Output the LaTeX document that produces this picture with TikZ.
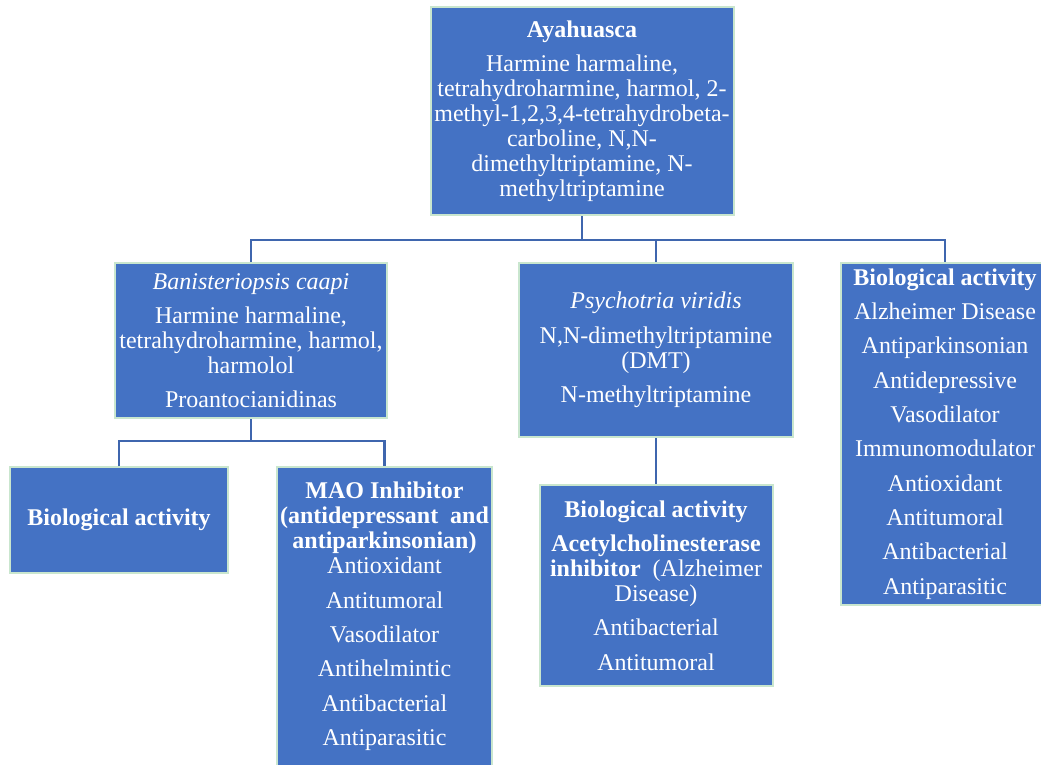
\documentclass[tikz,border=0pt]{standalone}
\usepackage{fontspec}
\setmainfont{Liberation Serif}
\definecolor{boxfill}{HTML}{4472C4}
\definecolor{boxline}{HTML}{C9E6CE}
\definecolor{connline}{HTML}{3F66AE}
\tikzset{
  pbox/.style={draw=boxline, line width=1.5pt, fill=boxfill, text=white,
    rectangle, inner sep=0pt, align=center,
    font=\fontsize{18}{18.75}\selectfont},
  bw/.style={minimum width={#1*0.75pt}},
  bh/.style={minimum height={#1*0.75pt}},
  conn/.style={draw=connline, line width=1.7pt}
}
\begin{document}
\begin{tikzpicture}[x=0.75pt, y=-0.75pt]
\useasboundingbox (0,0) rectangle (1041,764);
\clip (0,0) rectangle (1041,764);

\node[pbox, bw=303, bh=208] (top) at (582,111)
  {\textbf{Ayahuasca}\\[7pt]
   Harmine harmaline,\\
   tetrahydroharmine, harmol, 2-\\
   methyl-1,2,3,4-tetrahydrobeta-\\
   carboline, N,N-\\
   dimethyltriptamine, N-\\
   methyltriptamine};

\node[pbox, bw=272, bh=155] (ban) at (251,340.5)
  {\textit{Banisteriopsis caapi}\\[7pt]
   Harmine harmaline,\\
   tetrahydroharmine, harmol,\\
   harmolol\\[7pt]
   Proantocianidinas};

\node[pbox, bw=274, bh=174] (psy) at (656,350)
  {\textit{Psychotria viridis}\\[7pt]
   N,N-dimethyltriptamine\\
   (DMT)\\[7pt]
   N-methyltriptamine};

\node[pbox, bw=208, bh=342] (bio3) at (945,434)
  {\textbf{Biological activity}\\[7pt]
   Alzheimer Disease\\[7pt]
   Antiparkinsonian\\[7pt]
   Antidepressive\\[7pt]
   Vasodilator\\[7pt]
   Immunomodulator\\[7pt]
   Antioxidant\\[7pt]
   Antitumoral\\[7pt]
   Antibacterial\\[7pt]
   Antiparasitic};

\node[pbox, bw=218, bh=106] (bio1) at (119,520)
  {\textbf{Biological activity}};

\node[pbox, bw=215, bh=299] (mao) at (384.5,616.5)
  {\textbf{MAO Inhibitor}\\
   \textbf{(antidepressant\ \ and}\\
   \textbf{antiparkinsonian)}\\
   Antioxidant\\[7pt]
   Antitumoral\\[7pt]
   Vasodilator\\[7pt]
   Antihelmintic\\[7pt]
   Antibacterial\\[7pt]
   Antiparasitic};

\node[pbox, bw=233, bh=201] (bio2) at (656,585.5)
  {\textbf{Biological activity}\\[7pt]
   \textbf{Acetylcholinesterase}\\
   \textbf{inhibitor}\ \ (Alzheimer\\
   Disease)\\[7pt]
   Antibacterial\\[7pt]
   Antitumoral};

\coordinate (hub) at (582,240);
\coordinate (hub2) at (251,441);
\draw[conn] (top.south) -- (hub);
\draw[conn] (ban.north) |- (hub) -| (bio3.north);
\draw[conn] (hub) -| (psy.north);
\draw[conn] (ban.south) -- (hub2);
\draw[conn] (bio1.north) |- (hub2) -| (mao.north);
\draw[conn] (psy.south) -- (bio2.north);
\end{tikzpicture}
\end{document}
